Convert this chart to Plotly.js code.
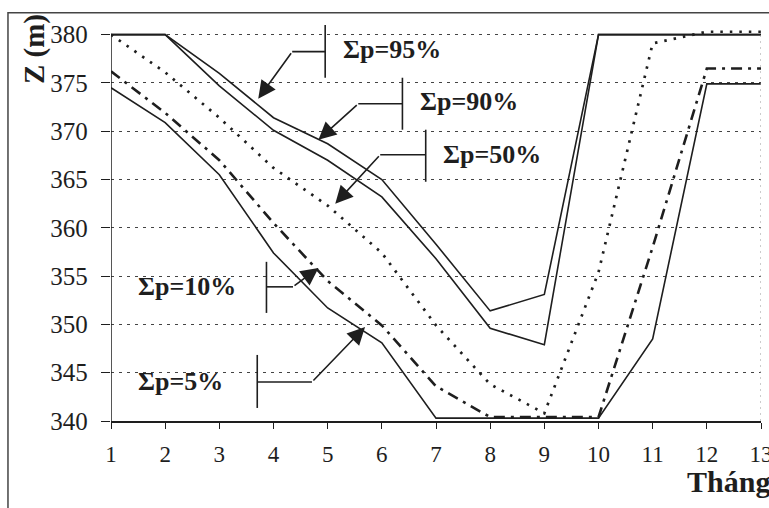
<!DOCTYPE html>
<html>
<head>
<meta charset="utf-8">
<script src="https://cdn.plot.ly/plotly-3.0.1.min.js"></script>
<style>html,body{margin:0;padding:0;background:#fff;}#chart{width:769px;height:508px;}</style>
</head>
<body>
<div id="chart"></div>
<script>
// Data
const months = [1, 2, 3, 4, 5, 6, 7, 8, 9, 10, 11, 12, 13];
const zP95 = [380, 380, 376.0, 371.4, 368.7, 365.0, 358.3, 351.4, 353.1, 380, 380, 380, 380];
const zP90 = [380, 380, 374.7, 370.1, 367.0, 363.2, 356.8, 349.6, 347.9, 380, 380, 380, 380];
const zP50 = [380, 376.1, 371.4, 366.2, 362.3, 357.4, 349.9, 343.8, 340.8, 355.4, 379.1, 380.3, 380.3];
const zP10 = [376.2, 371.9, 367.0, 360.5, 354.5, 349.9, 343.6, 340.4, 340.4, 340.4, 358.0, 376.5, 376.5];
const zP5  = [374.5, 370.9, 365.5, 357.4, 351.7, 348.1, 340.3, 340.3, 340.3, 340.3, 348.5, 374.9, 374.9];
const yTicks = [340, 345, 350, 355, 360, 365, 370, 375, 380];
const xTicks = [1, 2, 3, 4, 5, 6, 7, 8, 9, 10, 11, 12, 13];
const seriesLabels = ['Σp=95%', 'Σp=90%', 'Σp=50%', 'Σp=10%', 'Σp=5%'];

const ink = '#1e1e1e';
const serif = '"Liberation Serif", "DejaVu Serif", serif';

const traces = [
  {x: months, y: zP95, name: seriesLabels[0], mode: 'lines', line: {color: ink, width: 1.6}},
  {x: months, y: zP90, name: seriesLabels[1], mode: 'lines', line: {color: ink, width: 1.6}},
  {x: months, y: zP50, name: seriesLabels[2], mode: 'lines', line: {color: ink, width: 2.7, dash: '2.5px,7px'}},
  {x: months, y: zP10, name: seriesLabels[3], mode: 'lines', line: {color: ink, width: 2.6, dash: '11px,6px,3px,6px'}},
  {x: months, y: zP5,  name: seriesLabels[4], mode: 'lines', line: {color: ink, width: 1.6}}
];

// callout geometry: [barX, barY0, barY1, elbowX, lineY, tipX, tipY, textX, textY]
const callouts = [
  [4.954, 381.0, 375.54, 4.345, 378.24, 3.718, 373.37, 5.24, 378.45],
  [6.38, 375.54, 370.16, 5.565, 372.85, 4.83, 369.12, 6.66, 373.06],
  [6.81, 370.16, 364.77, 5.97, 367.56, 5.14, 362.49, 7.10, 367.56],
  [3.87, 356.48, 351.19, 4.36, 353.89, 4.83, 355.85, 1.46, 353.89],
  [3.70, 346.84, 341.35, 4.71, 344.04, 5.69, 349.74, 1.46, 344.04]
];

const shapes = [
  // outer frame
  {type: 'rect', xref: 'paper', yref: 'paper', x0: -0.1585, x1: 1.06, y0: -0.3, y1: 1.031,
   line: {color: '#444', width: 1.5}, fillcolor: 'rgba(0,0,0,0)', layer: 'below'},
  // left axis line
  {type: 'line', xref: 'x', yref: 'y', x0: 1, x1: 1, y0: 340, y1: 380, line: {color: ink, width: 1.5}},
  // right edge faint dotted line
  {type: 'line', xref: 'x', yref: 'y', x0: 13, x1: 13, y0: 340, y1: 380, line: {color: '#999', width: 1, dash: '2px,4px'}}
];
const annotations = [];
callouts.forEach((c, i) => {
  shapes.push({type: 'line', xref: 'x', yref: 'y', x0: c[0], x1: c[0], y0: c[1], y1: c[2], line: {color: ink, width: 1.6}});
  shapes.push({type: 'line', xref: 'x', yref: 'y', x0: c[0], x1: c[3], y0: c[4], y1: c[4], line: {color: ink, width: 1.6}});
  annotations.push({x: c[5], y: c[6], ax: c[3], ay: c[4], axref: 'x', ayref: 'y', xref: 'x', yref: 'y',
    text: '', showarrow: true, arrowhead: 2, arrowsize: 2.2, arrowwidth: 1.6, arrowcolor: ink, standoff: 0});
  annotations.push({x: c[7], y: c[8], xref: 'x', yref: 'y', xanchor: 'left', yanchor: 'middle',
    text: seriesLabels[i], showarrow: false, font: {family: serif, size: 26, color: ink, weight: 'bold'}});
});
annotations.push({x: -0.118, y: 0.94, xref: 'paper', yref: 'paper', text: '<b>Z (m)</b>', textangle: -90,
  showarrow: false, xanchor: 'center', yanchor: 'middle', font: {family: serif, size: 29, color: ink}});
annotations.push({x: 0.883, y: -0.152, xref: 'paper', yref: 'paper', text: '<b>Tháng</b>',
  showarrow: false, xanchor: 'left', yanchor: 'middle', font: {family: serif, size: 30, color: ink}});

const layout = {
  width: 769, height: 508,
  margin: {l: 111, r: 8, t: 25, b: 87},
  paper_bgcolor: '#fff', plot_bgcolor: '#fff',
  showlegend: false,
  xaxis: {
    range: [1, 13], tickvals: xTicks, ticktext: xTicks.map(String),
    showgrid: false, zeroline: false, showline: true, linecolor: ink, linewidth: 1.5,
    ticks: 'outside', ticklen: 6, tickcolor: ink, ticklabelstandoff: 6, ticklabeloverflow: 'allow',
    tickfont: {family: serif, size: 23, color: ink}
  },
  yaxis: {
    range: [340, 381], tickvals: yTicks, ticktext: yTicks.map(v => v + '\u2006\u2006'),
    showgrid: true, gridcolor: '#444', gridwidth: 1, griddash: '3px,5px',
    zeroline: false, showline: false,
    ticks: 'outside', ticklen: 9, tickcolor: ink,
    tickfont: {family: serif, size: 25, color: ink}
  },
  shapes: shapes,
  annotations: annotations
};

Plotly.newPlot('chart', traces, layout, {displayModeBar: false, staticPlot: true});
</script>
</body>
</html>
